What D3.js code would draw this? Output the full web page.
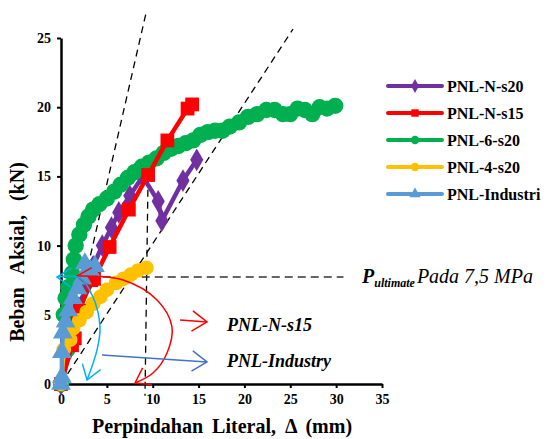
<!DOCTYPE html>
<html>
<head>
<meta charset="utf-8">
<script src="https://cdn.jsdelivr.net/npm/d3@7"></script>
<style>
  body { margin: 0; background: #fff; }
  text { font-family: "Liberation Serif", "Times New Roman", serif; }
</style>
</head>
<body>
<div id="chart"></div>
<script>
// donnees (mm, kN)
var seriesNames = ["PNL-N-s20", "PNL-N-s15", "PNL-6-s20", "PNL-4-s20", "PNL-Industri"];
var seriesColors = ["#7030A0", "#FF0000", "#00B050", "#FFC000", "#5B9BD5"];
var seriesSymbols = ["diamond", "square", "circle", "circle", "triangle"];

var ns20 = [[0,0],[0.5,2.0],[1.2,4.0],[2.0,5.5],[2.7,7.0],[3.5,8.5],[4.5,10.0],[5.5,11.3],[6.3,12.4],[7.5,13.6],[8.9,15.0],[10.6,13.2],[11.0,11.8],[13.3,14.7],[14.8,16.2]];
var ns15 = [[0,0],[1.2,2.8],[1.5,3.3],[1.8,5.0],[2.0,5.3],[3.3,7.5],[3.6,7.6],[5.3,9.9],[7.4,12.6],[9.5,15.1],[11.6,17.6],[13.8,19.9],[14.3,20.2]];
var p6s20 = [[0,0],[0.7,2.5],[1.0,3.2],[0.7,4.2],[0.3,5.0],[0.5,6.2],[0.8,7.0],[1.2,8.0],[1.4,9.0],[1.6,10.0],[2.0,10.8],[2.5,11.5],[3.0,12.1],[3.5,12.6],[4.2,13.0],[5.0,13.4],[5.8,13.9],[6.5,14.4],[7.3,14.9],[8.0,15.3],[8.8,15.7],[9.6,16.0],[10.4,16.3],[11.2,16.7],[12.0,17.0],[12.8,17.2],[13.6,17.4],[14.4,17.6],[15.2,18.0],[16.0,18.2],[16.8,18.3],[17.6,18.3],[18.4,18.6],[19.4,18.9],[20.4,19.3],[21.4,19.5],[22.4,19.8],[23.3,19.8],[24.2,19.5],[25.0,19.5],[25.8,19.9],[26.6,19.8],[27.4,19.5],[28.2,20.0],[29.0,19.9],[29.9,20.1]];
var p4s20 = [[0,0],[0.3,2.5],[1.0,3.2],[1.3,4.0],[2.0,4.6],[2.8,5.2],[3.5,5.8],[4.3,6.3],[5.0,6.8],[6.0,7.3],[6.8,7.6],[7.6,7.9],[8.4,8.2],[9.3,8.4]];
var industri = [[0,0],[0.1,0.5],[0.1,2.3],[0.2,3.7],[0.5,4.5],[0.8,5.3],[1.3,6.2],[1.8,6.9],[2.3,7.6],[2.6,8.7],[3.2,8.2],[3.7,8.5]];

var xTicks = [0, 5, 10, 15, 20, 25, 30, 35];
var yTicks = [0, 5, 10, 15, 20, 25];

// lignes pointillees (mm, kN)
var dashLines = [
  [[0,0],[9.27,26.8]],
  [[0,0],[25.3,25.65]],
  [[9.49,14.9],[9.16,-0.85]]
];
var pUltimate = 7.73;

// fleches d'annotation (mm, kN)
var redCurve = [[1.74,7.80],[6.76,7.51],[10.47,6.07],[12.10,4.12],[11.56,2.24],[10.03,0.79],[8.07,0.07]];
var blueCurve = [[-0.44,7.73],[2.07,7.66],[3.49,6.29],[4.25,4.12],[3.93,2.46],[2.84,0.29]];
var redArrow = [[12.98,4.62],[15.92,4.48]];
var blueArrow = [[4.47,2.10],[15.92,1.59]];

var width = 550, height = 439;
var svg = d3.select("#chart").append("svg")
    .attr("width", width)
    .attr("height", height);

var x = d3.scaleLinear().domain([0, 35]).range([61, 382]);
var y = d3.scaleLinear().domain([0, 25]).range([384, 38]);

// pointilles
dashLines.forEach(function(l) {
  svg.append("line")
    .attr("x1", x(l[0][0])).attr("y1", y(l[0][1]))
    .attr("x2", x(l[1][0])).attr("y2", y(l[1][1]))
    .attr("stroke", "#000").attr("stroke-width", 1.3)
    .attr("stroke-dasharray", "7,5");
});
svg.append("line")
  .attr("x1", x(0.3)).attr("x2", x(30.8))
  .attr("y1", y(pUltimate)).attr("y2", y(pUltimate))
  .attr("stroke", "#333").attr("stroke-width", 1.5)
  .attr("stroke-dasharray", "8,5");

// axes
var xAxis = svg.append("g")
  .attr("transform", "translate(0," + y(0) + ")")
  .call(d3.axisBottom(x).tickValues(xTicks).tickSize(4).tickPadding(6).tickSizeOuter(0));
var yAxis = svg.append("g")
  .attr("transform", "translate(" + x(0) + ",0)")
  .call(d3.axisLeft(y).tickValues(yTicks).tickSize(4).tickPadding(6).tickSizeOuter(0));
[xAxis, yAxis].forEach(function(a) {
  a.select(".domain").attr("stroke", "#000").attr("stroke-width", 2.5);
  a.selectAll(".tick line").attr("stroke", "#000").attr("stroke-width", 2);
  a.selectAll(".tick text")
    .attr("font-family", "Liberation Serif")
    .attr("font-weight", "bold")
    .attr("font-size", 14)
    .attr("fill", "#000");
});

// series
var allData = [ns20, p6s20, ns15, p4s20, industri];
var order = [0, 2, 1, 3, 4];
var symSize = [150, 190, 210, 170, 170];
var lineW = [4.5, 4.5, 7, 4.5, 4.5];
var symType = { diamond: d3.symbolDiamond, square: d3.symbolSquare, circle: d3.symbolCircle, triangle: d3.symbolTriangle };

var line = d3.line()
  .x(function(d) { return x(d[0]); })
  .y(function(d) { return y(d[1]); });

order.forEach(function(k, i) {
  var data = allData[i];
  var g = svg.append("g");
  g.append("path")
    .datum(data)
    .attr("d", line)
    .attr("fill", "none")
    .attr("stroke", seriesColors[k])
    .attr("stroke-width", lineW[k])
    .attr("stroke-linejoin", "round");
  g.selectAll("path.m")
    .data(data)
    .enter().append("path")
    .attr("class", "m")
    .attr("transform", function(d) { return "translate(" + x(d[0]) + "," + y(d[1]) + ")"; })
    .attr("d", d3.symbol().type(symType[seriesSymbols[k]]).size(symSize[k]))
    .attr("fill", seriesColors[k]);
});

// annotations
function arrowHead(tip, from, color, len) {
  var a = Math.atan2(tip[1] - from[1], tip[0] - from[0]);
  var sp = 0.6;
  var p = [
    [tip[0] - len * Math.cos(a - sp), tip[1] - len * Math.sin(a - sp)],
    tip,
    [tip[0] - len * Math.cos(a + sp), tip[1] - len * Math.sin(a + sp)]
  ];
  svg.append("path")
    .attr("d", d3.line()(p))
    .attr("fill", "none")
    .attr("stroke", color)
    .attr("stroke-width", 1.5);
}

function curveArrow(pts, color) {
  var px = pts.map(function(d) { return [x(d[0]), y(d[1])]; });
  svg.append("path")
    .attr("d", d3.line().curve(d3.curveCatmullRom)(px))
    .attr("fill", "none")
    .attr("stroke", color)
    .attr("stroke-width", 1.5);
  var n = px.length;
  arrowHead(px[n - 1], px[n - 2], color, 17);
  arrowHead(px[0], px[1], color, 17);
}

function straightArrow(pts, color) {
  var a = [x(pts[0][0]), y(pts[0][1])], b = [x(pts[1][0]), y(pts[1][1])];
  svg.append("line")
    .attr("x1", a[0]).attr("y1", a[1]).attr("x2", b[0]).attr("y2", b[1])
    .attr("stroke", color).attr("stroke-width", 1.5);
  arrowHead(b, a, color, 18);
}

curveArrow(redCurve, "#FF0000");
curveArrow(blueCurve, "#00B0F0");
straightArrow(redArrow, "#FF0000");
straightArrow(blueArrow, "#4472C4");

svg.append("text")
  .attr("x", 227).attr("y", 331)
  .attr("font-size", 18).attr("font-weight", "bold").attr("font-style", "italic")
  .text("PNL-N-s15");
svg.append("text")
  .attr("x", 227).attr("y", 367)
  .attr("font-size", 18).attr("font-weight", "bold").attr("font-style", "italic")
  .text("PNL-Industry");

var pl = svg.append("text")
  .attr("x", 362).attr("y", y(pUltimate) + 6)
  .attr("font-size", 20).attr("font-style", "italic");
pl.append("tspan").attr("font-weight", "bold").text("P");
pl.append("tspan").attr("font-weight", "bold").attr("font-size", 12).attr("dy", 4).text("ultimate");
pl.append("tspan").attr("dy", -4).attr("dx", 2).text("Pada 7,5 MPa");

// titres des axes
svg.append("text")
  .attr("x", 222).attr("y", 433)
  .attr("text-anchor", "middle")
  .attr("font-size", 20).attr("font-weight", "bold")
  .attr("word-spacing", 4)
  .text("Perpindahan Literal, \u0394 (mm)");
svg.append("text")
  .attr("transform", "translate(24,252)rotate(-90)")
  .attr("text-anchor", "middle")
  .attr("font-size", 20).attr("font-weight", "bold")
  .attr("word-spacing", 9)
  .text("Beban Aksial, (kN)");

// legende
var legend = svg.append("g")
  .selectAll("g")
  .data(seriesNames)
  .enter().append("g")
  .attr("transform", function(d, i) { return "translate(388," + (86 + i * 27) + ")"; });

legend.append("line")
  .attr("x1", 0).attr("x2", 54)
  .attr("stroke", function(d, i) { return seriesColors[i]; })
  .attr("stroke-width", 4)
  .attr("stroke-linecap", "round");
legend.append("path")
  .attr("transform", "translate(27,0)")
  .attr("d", function(d, i) { return d3.symbol().type(symType[seriesSymbols[i]]).size(55)(); })
  .attr("fill", function(d, i) { return seriesColors[i]; });
legend.append("text")
  .attr("x", 59).attr("y", 0).attr("dy", "0.35em")
  .attr("font-size", 16).attr("font-weight", "bold")
  .text(function(d) { return d; });
</script>
</body>
</html>
